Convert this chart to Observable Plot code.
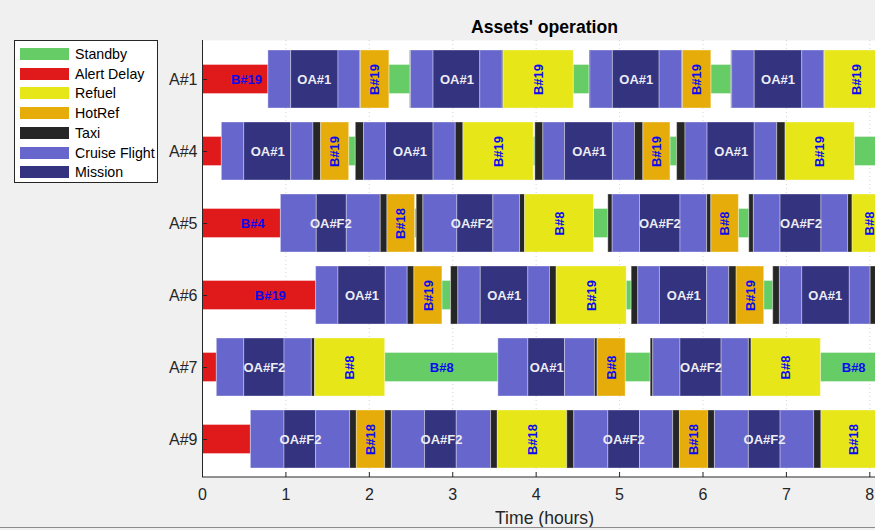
<!DOCTYPE html>
<html><head><meta charset="utf-8">
<script src="https://cdn.jsdelivr.net/npm/d3@7"></script>
<script src="https://cdn.jsdelivr.net/npm/@observablehq/plot@0.6"></script>
<style>
html,body{margin:0;padding:0;background:#f0f0f0;overflow:hidden;width:875px;height:530px}
#wrap{position:relative;width:875px;height:530px;overflow:hidden;font-family:"Liberation Sans",Arial,Helvetica,sans-serif}
#chart{position:absolute;left:0;top:0;width:890px;height:530px}
#chart svg{max-width:none !important;width:890px !important;height:530px !important}
#legend{position:absolute;left:14px;top:40px;width:144px;height:143px;background:#fff;border:1px solid #262626;box-sizing:border-box}
.item{position:absolute;left:0;width:140px;height:18px}
.sw{position:absolute;left:5px;top:3px;width:49px;height:12px}
.lb{position:absolute;left:60px;top:0;font-size:14.2px;line-height:18px;color:#000;white-space:nowrap}
#bline{position:absolute;left:0;top:527px;width:875px;height:1px;background:#8c8c8c}
</style></head>
<body><div id="wrap"><div id="chart"></div><div id="legend"></div><div id="bline"></div></div>
<script>
// ---------- data ----------
const assets = ["A#1", "A#4", "A#5", "A#6", "A#7", "A#9"];
const states = ["Standby", "Alert Delay", "Refuel", "HotRef", "Taxi", "Cruise Flight", "Mission"];
const stateColors = ["#66cc66", "#e01a1a", "#e6e619", "#e6ad0a", "#262626", "#6666cc", "#333380"];
const xTicks = [0, 1, 2, 3, 4, 5, 6, 7, 8];

// [state, start (h), end (h), label]
const opsA1 = [
  ["Alert Delay", 0, 0.79, "B#19"],
  ["Cruise Flight", 0.79, 1.063], ["Mission", 1.063, 1.63, "OA#1"], ["Cruise Flight", 1.63, 1.89],
  ["Taxi", 1.89, 1.9], ["HotRef", 1.9, 2.24, "B#19"], ["Standby", 2.24, 2.49], ["Taxi", 2.49, 2.5],
  ["Cruise Flight", 2.5, 2.77], ["Mission", 2.77, 3.33, "OA#1"], ["Cruise Flight", 3.33, 3.6],
  ["Taxi", 3.6, 3.61], ["Refuel", 3.61, 4.45, "B#19"], ["Standby", 4.45, 4.64], ["Taxi", 4.64, 4.65],
  ["Cruise Flight", 4.65, 4.92], ["Mission", 4.92, 5.48, "OA#1"], ["Cruise Flight", 5.48, 5.75],
  ["Taxi", 5.75, 5.76], ["HotRef", 5.76, 6.10, "B#19"], ["Standby", 6.10, 6.34], ["Taxi", 6.34, 6.35],
  ["Cruise Flight", 6.35, 6.62], ["Mission", 6.62, 7.19, "OA#1"], ["Cruise Flight", 7.19, 7.45],
  ["Taxi", 7.45, 7.46], ["Refuel", 7.46, 8.22, "B#19"]
];
const opsA4 = [
  ["Alert Delay", 0, 0.232],
  ["Cruise Flight", 0.232, 0.50], ["Mission", 0.50, 1.063, "OA#1"], ["Cruise Flight", 1.063, 1.33],
  ["Taxi", 1.33, 1.422], ["HotRef", 1.422, 1.758, "B#19"], ["Standby", 1.758, 1.838], ["Taxi", 1.838, 1.937],
  ["Cruise Flight", 1.937, 2.20], ["Mission", 2.20, 2.77, "OA#1"], ["Cruise Flight", 2.77, 3.036],
  ["Taxi", 3.036, 3.128], ["Refuel", 3.128, 3.97, "B#19"], ["Standby", 3.97, 3.99], ["Taxi", 3.99, 4.086],
  ["Cruise Flight", 4.086, 4.346], ["Mission", 4.346, 4.92, "OA#1"], ["Cruise Flight", 4.92, 5.185],
  ["Taxi", 5.185, 5.285], ["HotRef", 5.285, 5.61, "B#19"], ["Standby", 5.61, 5.69], ["Taxi", 5.69, 5.79],
  ["Cruise Flight", 5.79, 6.055], ["Mission", 6.055, 6.62, "OA#1"], ["Cruise Flight", 6.62, 6.89],
  ["Taxi", 6.89, 6.99], ["Refuel", 6.99, 7.82, "B#19"], ["Standby", 7.82, 8.22]
];
const opsA5 = [
  ["Alert Delay", 0, 0.94, "B#4"],
  ["Cruise Flight", 0.94, 1.37], ["Mission", 1.37, 1.73, "OA#F2"], ["Cruise Flight", 1.73, 2.137],
  ["Taxi", 2.137, 2.217], ["HotRef", 2.217, 2.548, "B#18"], ["Standby", 2.548, 2.568], ["Taxi", 2.568, 2.648],
  ["Cruise Flight", 2.648, 3.055], ["Mission", 3.055, 3.487, "OA#F2"], ["Cruise Flight", 3.487, 3.807],
  ["Taxi", 3.807, 3.867], ["Refuel", 3.867, 4.693, "B#8"], ["Standby", 4.693, 4.865], ["Taxi", 4.865, 4.917],
  ["Cruise Flight", 4.917, 5.245], ["Mission", 5.245, 5.73, "OA#F2"], ["Cruise Flight", 5.73, 6.05],
  ["Taxi", 6.05, 6.10], ["HotRef", 6.10, 6.43, "B#8"], ["Standby", 6.43, 6.555], ["Taxi", 6.555, 6.61],
  ["Cruise Flight", 6.61, 6.93], ["Mission", 6.93, 7.42, "OA#F2"], ["Cruise Flight", 7.42, 7.74],
  ["Taxi", 7.74, 7.793], ["Refuel", 7.793, 8.2, "B#8"]
];
const opsA6 = [
  ["Alert Delay", 0, 1.362, "B#19"],
  ["Cruise Flight", 1.362, 1.63], ["Mission", 1.63, 2.197, "OA#1"], ["Cruise Flight", 2.197, 2.46],
  ["Taxi", 2.46, 2.54], ["HotRef", 2.54, 2.876, "B#19"], ["Standby", 2.876, 2.98], ["Taxi", 2.98, 3.067],
  ["Cruise Flight", 3.067, 3.336], ["Mission", 3.336, 3.906, "OA#1"], ["Cruise Flight", 3.906, 4.166],
  ["Taxi", 4.166, 4.246], ["Refuel", 4.246, 5.085, "B#19"], ["Standby", 5.085, 5.145], ["Taxi", 5.145, 5.224],
  ["Cruise Flight", 5.224, 5.484], ["Mission", 5.484, 6.05, "OA#1"], ["Cruise Flight", 6.05, 6.315],
  ["Taxi", 6.315, 6.403], ["HotRef", 6.403, 6.734, "B#19"], ["Standby", 6.734, 6.842], ["Taxi", 6.842, 6.922],
  ["Cruise Flight", 6.922, 7.19], ["Mission", 7.19, 7.76, "OA#1"], ["Cruise Flight", 7.76, 8.01],
  ["Taxi", 8.01, 8.1], ["Refuel", 8.1, 8.22]
];
const opsA7 = [
  ["Alert Delay", 0, 0.172],
  ["Cruise Flight", 0.172, 0.50], ["Mission", 0.50, 0.983, "OA#F2"], ["Cruise Flight", 0.983, 1.311],
  ["Taxi", 1.311, 1.35], ["Refuel", 1.35, 2.19, "B#8"], ["Standby", 2.19, 3.547, "B#8"],
  ["Cruise Flight", 3.547, 3.906], ["Mission", 3.906, 4.346, "OA#1"], ["Cruise Flight", 4.346, 4.705],
  ["Taxi", 4.705, 4.737], ["HotRef", 4.737, 5.073, "B#8"], ["Standby", 5.073, 5.373], ["Taxi", 5.373, 5.404],
  ["Cruise Flight", 5.404, 5.73], ["Mission", 5.73, 6.223, "OA#F2"], ["Cruise Flight", 6.223, 6.55],
  ["Taxi", 6.55, 6.583], ["Refuel", 6.583, 7.413, "B#8"], ["Standby", 7.413, 8.2, "B#8"]
];
const opsA9 = [
  ["Alert Delay", 0, 0.58],
  ["Cruise Flight", 0.58, 0.983], ["Mission", 0.983, 1.362, "OA#F2"], ["Cruise Flight", 1.362, 1.77],
  ["Taxi", 1.77, 1.85], ["HotRef", 1.85, 2.19, "B#18"], ["Taxi", 2.19, 2.27],
  ["Cruise Flight", 2.27, 2.668], ["Mission", 2.668, 3.048, "OA#F2"], ["Cruise Flight", 3.048, 3.46],
  ["Taxi", 3.46, 3.54], ["Refuel", 3.54, 4.373, "B#18"], ["Taxi", 4.373, 4.457],
  ["Cruise Flight", 4.457, 4.865], ["Mission", 4.865, 5.245, "OA#F2"], ["Cruise Flight", 5.245, 5.643],
  ["Taxi", 5.643, 5.724], ["HotRef", 5.724, 6.063, "B#18"], ["Taxi", 6.063, 6.143],
  ["Cruise Flight", 6.143, 6.55], ["Mission", 6.55, 6.93, "OA#F2"], ["Cruise Flight", 6.93, 7.333],
  ["Taxi", 7.333, 7.42], ["Refuel", 7.42, 8.2, "B#18"]
];
const schedules = [opsA1, opsA4, opsA5, opsA6, opsA7, opsA9];

// ---------- build table ----------
const segs = assets.flatMap((asset, k) => schedules[k].map(([state, start, end, label], i, arr) => {
  let c0 = start, c1 = end;
  if (state === "Mission") {
    if (arr[i - 1] && arr[i - 1][0] === "Cruise Flight") c0 = arr[i - 1][1];
    if (arr[i + 1] && arr[i + 1][0] === "Cruise Flight") c1 = arr[i + 1][2];
  }
  return {asset, state, start, end, label, mid: (c0 + c1) / 2};
}));
const shortStates = ["Alert Delay", "Standby"];
const tall = segs.filter(d => !shortStates.includes(d.state));
const short = segs.filter(d => shortStates.includes(d.state));
const missionLabels = segs.filter(d => d.label && d.state === "Mission");
const vertLabels = segs.filter(d => d.label && (d.state === "Refuel" || d.state === "HotRef"));
const standbyLabels = segs.filter(d => d.label && d.state === "Standby");
const delayLabels = segs.filter(d => d.label && d.state === "Alert Delay");

const FONT = '"Liberation Sans", Arial, Helvetica, sans-serif';
const H = 530, MT = 40, MB = 53, W = 890, ML = 202, MR = 4;
const FH = H - MT - MB, FW = W - ML - MR;

const chart = Plot.plot({
  width: W, height: H,
  marginLeft: ML, marginRight: MR, marginTop: MT, marginBottom: MB,
  style: {background: "transparent", fontFamily: FONT, fontSize: "16px", color: "#262626", overflow: "visible", maxWidth: "none"},
  x: {domain: [0, 8.2], ticks: xTicks, tickSize: 0, tickPadding: 11, label: null, tickFormat: d3.format("d")},
  y: {domain: assets, padding: 0, tickSize: 0, tickPadding: 5, label: null},
  color: {domain: states, range: stateColors},
  marks: [
    Plot.frame({fill: "white", stroke: "none"}),
    Plot.ruleX(xTicks, {stroke: "#262626", strokeOpacity: 0.2, strokeDasharray: "1,3"}),
    Plot.barX(short, {x1: "start", x2: "end", y: "asset", fill: "state", insetTop: 21.5, insetBottom: 21.5,
      stroke: "white", strokeOpacity: 0.35, strokeWidth: 1}),
    Plot.barX(tall, {x1: "start", x2: "end", y: "asset", fill: "state", insetTop: 7, insetBottom: 7,
      stroke: "white", strokeOpacity: 0.35, strokeWidth: 1}),
    Plot.text(missionLabels, {x: "mid", y: "asset", text: "label", fill: "#ececf2", fontWeight: "bold", fontSize: 13}),
    Plot.text(vertLabels, {x: "mid", y: "asset", text: "label", fill: "#0a0af0", fontWeight: "bold", fontSize: 13, rotate: -90}),
    Plot.text(standbyLabels, {x: "mid", y: "asset", text: "label", fill: "#0a0af0", fontWeight: "bold", fontSize: 13}),
    Plot.text(delayLabels, {x: "mid", y: "asset", text: "label", fill: "#0a0af0", fontWeight: "bold", fontSize: 13, dx: 11}),
    // axis lines and inward ticks (MATLAB style)
    Plot.ruleX([0], {stroke: "#262626"}),
    Plot.ruleX(xTicks, {stroke: "#262626", insetTop: FH - 5}),
    Plot.ruleY(assets, {stroke: "#262626", insetRight: FW - 5}),
    Plot.text(["Assets' operation"], {frameAnchor: "top", lineAnchor: "middle", dy: -13, fontWeight: "bold", fontSize: 17.6, fill: "#000"}),
    Plot.text(["Time (hours)"], {frameAnchor: "bottom", lineAnchor: "middle", dy: 41, fontSize: 17.6, fill: "#262626"})
  ]
});
document.getElementById("chart").appendChild(chart);
// bottom axis line
d3.select(chart).append("line")
  .attr("x1", ML).attr("x2", W - MR).attr("y1", H - MB).attr("y2", H - MB)
  .attr("stroke", "#262626");

// ---------- legend ----------
const lg = d3.select("#legend");
states.forEach((s, i) => {
  const it = lg.append("div").attr("class", "item").style("top", (4 + i * 19.7) + "px");
  it.append("div").attr("class", "sw").style("background", stateColors[i]);
  it.append("div").attr("class", "lb").text(s);
});
</script></body></html>
